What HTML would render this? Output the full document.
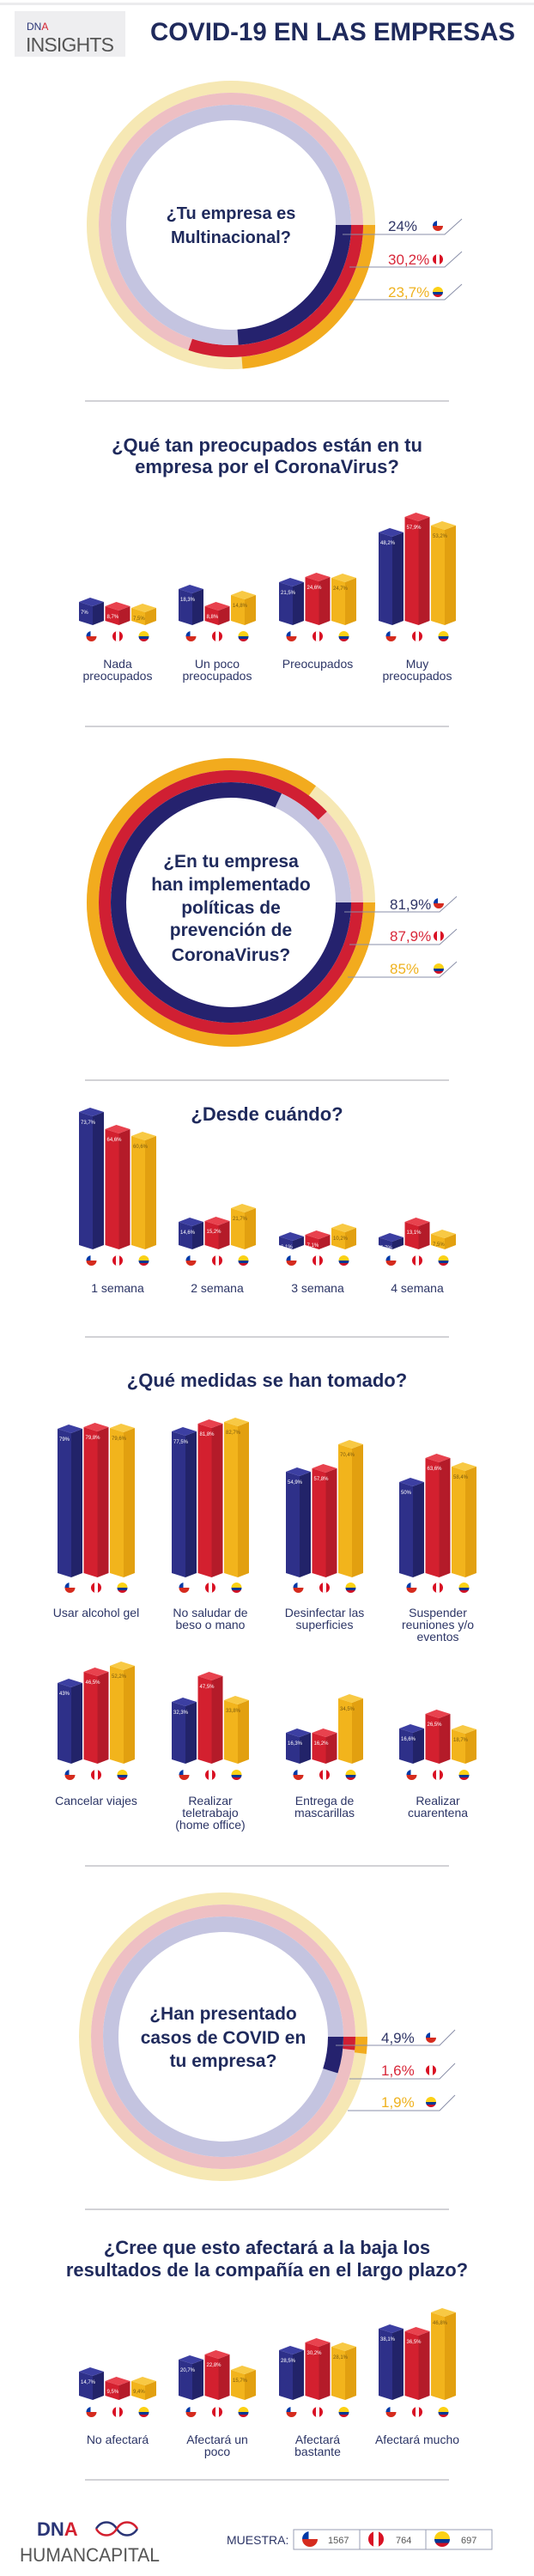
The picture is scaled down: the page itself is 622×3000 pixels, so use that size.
<!DOCTYPE html>
<html><head><meta charset="utf-8">
<style>
html,body{margin:0;padding:0;background:#fff;width:622px;height:3000px;overflow:hidden}
svg{display:block;font-family:"Liberation Sans",sans-serif}
.t{fill:#1f2a5c;font-weight:bold;text-anchor:middle}
.l{fill:#2c3566;font-size:14px;text-anchor:middle}
.sep{stroke:#c4c4c8;stroke-width:1.5}
.ld{stroke:#8a8fa8;stroke-width:1;fill:none}
.p{font-size:17px}
</style></head><body>
<svg id="s" width="622" height="3000" viewBox="0 0 622 3000" xmlns="http://www.w3.org/2000/svg">
<defs>
<clipPath id="cc"><circle cx="6" cy="6" r="6"/></clipPath>
<symbol id="cl" viewBox="0 0 12 12"><g clip-path="url(#cc)"><rect width="12" height="6" fill="#fff"/><rect y="6" width="12" height="6" fill="#d52b1e"/><rect width="5" height="6" fill="#0039a6"/></g></symbol>
<symbol id="pe" viewBox="0 0 12 12"><g clip-path="url(#cc)"><rect width="12" height="12" fill="#d91023"/><rect x="4" width="4" height="12" fill="#fff"/></g></symbol>
<symbol id="co" viewBox="0 0 12 12"><g clip-path="url(#cc)"><rect width="12" height="6" fill="#fcd116"/><rect y="6" width="12" height="3" fill="#003893"/><rect y="9" width="12" height="3" fill="#ce1126"/></g></symbol>
</defs>
<rect x="0" y="3" width="622" height="3" fill="#ececee"/>
<!-- header -->
<rect x="17" y="13" width="129" height="53" fill="#eeeef0"/>
<text x="31" y="35" font-size="12" fill="#2a3576">DN<tspan fill="#d3202f">A</tspan></text>
<text x="30" y="60" font-size="23" fill="#555" textLength="103">INSIGHTS</text>
<text x="175" y="47" font-size="30" font-weight="bold" fill="#1f2a5c" textLength="425" lengthAdjust="spacingAndGlyphs">COVID-19 EN LAS EMPRESAS</text>

<!-- donut 1 -->
<g id="d1"></g>
<text class="t" x="269" y="255" font-size="20">¿Tu empresa es</text>
<text class="t" x="269" y="283" font-size="20">Multinacional?</text>
<text class="p" x="452" y="269" fill="#2f3566">24%</text>
<text class="p" x="452" y="308" fill="#d8283a">30,2%</text>
<text class="p" x="452" y="346" fill="#efb21f">23,7%</text>
<polyline class="ld" points="399,273 518,273 538,255"/>
<polyline class="ld" points="407,311 518,311 538,293"/>
<polyline class="ld" points="407,349 518,349 538,331"/>
<use href="#cl" x="504" y="257" width="12" height="12"/>
<use href="#pe" x="504" y="296" width="12" height="12"/>
<use href="#co" x="504" y="334" width="12" height="12"/>
<line class="sep" x1="99" y1="467" x2="523" y2="467"/>

<!-- preocupados -->
<text class="t" x="311" y="526" font-size="22">¿Qué tan preocupados están en tu</text>
<text class="t" x="311" y="551" font-size="22">empresa por el CoronaVirus?</text>
<text class="l" x="137" y="778">Nada</text><text class="l" x="137" y="792">preocupados</text>
<text class="l" x="253" y="778">Un poco</text><text class="l" x="253" y="792">preocupados</text>
<text class="l" x="370" y="778">Preocupados</text>
<text class="l" x="486" y="778">Muy</text><text class="l" x="486" y="792">preocupados</text>
<line class="sep" x1="99" y1="846" x2="523" y2="846"/>

<!-- donut 2 -->
<g id="d2"></g>
<text class="t" x="269" y="1010" font-size="21">¿En tu empresa</text>
<text class="t" x="269" y="1037" font-size="21">han implementado</text>
<text class="t" x="269" y="1064" font-size="21">políticas de</text>
<text class="t" x="269" y="1090" font-size="21">prevención de</text>
<text class="t" x="269" y="1119" font-size="21">CoronaVirus?</text>
<text class="p" x="454" y="1059" fill="#2f3566">81,9%</text>
<text class="p" x="454" y="1096" fill="#d8283a">87,9%</text>
<text class="p" x="454" y="1134" fill="#efb21f">85%</text>
<polyline class="ld" points="401,1062 512,1062 532,1044"/>
<polyline class="ld" points="407,1100 512,1100 532,1082"/>
<polyline class="ld" points="405,1138 512,1138 532,1120"/>
<use href="#cl" x="505" y="1046" width="12" height="12"/>
<use href="#pe" x="505" y="1084" width="12" height="12"/>
<use href="#co" x="505" y="1122" width="12" height="12"/>
<line class="sep" x1="99" y1="1258" x2="523" y2="1258"/>

<!-- desde -->
<text class="t" x="311" y="1305" font-size="22">¿Desde cuándo?</text>
<text class="l" x="137" y="1505">1 semana</text>
<text class="l" x="253" y="1505">2 semana</text>
<text class="l" x="370" y="1505">3 semana</text>
<text class="l" x="486" y="1505">4 semana</text>
<line class="sep" x1="99" y1="1557" x2="523" y2="1557"/>

<!-- medidas -->
<text class="t" x="311" y="1615" font-size="22">¿Qué medidas se han tomado?</text>
<text class="l" x="112" y="1883">Usar alcohol gel</text>
<text class="l" x="245" y="1883">No saludar de</text><text class="l" x="245" y="1897">beso o mano</text>
<text class="l" x="378" y="1883">Desinfectar las</text><text class="l" x="378" y="1897">superficies</text>
<text class="l" x="510" y="1883">Suspender</text><text class="l" x="510" y="1897">reuniones y/o</text><text class="l" x="510" y="1911">eventos</text>
<text class="l" x="112" y="2102">Cancelar viajes</text>
<text class="l" x="245" y="2102">Realizar</text><text class="l" x="245" y="2116">teletrabajo</text><text class="l" x="245" y="2130">(home office)</text>
<text class="l" x="378" y="2102">Entrega de</text><text class="l" x="378" y="2116">mascarillas</text>
<text class="l" x="510" y="2102">Realizar</text><text class="l" x="510" y="2116">cuarentena</text>
<line class="sep" x1="99" y1="2173" x2="523" y2="2173"/>

<!-- donut 3 -->
<g id="d3"></g>
<text class="t" x="260" y="2352" font-size="21">¿Han presentado</text>
<text class="t" x="260" y="2380" font-size="21">casos de COVID en</text>
<text class="t" x="260" y="2407" font-size="21">tu empresa?</text>
<text class="p" x="444" y="2379" fill="#2f3566">4,9%</text>
<text class="p" x="444" y="2417" fill="#d8283a">1,6%</text>
<text class="p" x="444" y="2454" fill="#efb21f">1,9%</text>
<polyline class="ld" points="391,2382 512,2382 530,2364"/>
<polyline class="ld" points="407,2421 512,2421 530,2403"/>
<polyline class="ld" points="405,2458 512,2458 530,2440"/>
<use href="#cl" x="496" y="2367" width="12" height="12"/>
<use href="#pe" x="496" y="2405" width="12" height="12"/>
<use href="#co" x="496" y="2442" width="12" height="12"/>
<line class="sep" x1="99" y1="2573" x2="523" y2="2573"/>

<!-- afectara -->
<text class="t" x="311" y="2625" font-size="22">¿Cree que esto afectará a la baja los</text>
<text class="t" x="311" y="2651" font-size="22">resultados de la compañía en el largo plazo?</text>
<text class="l" x="137" y="2846">No afectará</text>
<text class="l" x="253" y="2846">Afectará un</text><text class="l" x="253" y="2860">poco</text>
<text class="l" x="370" y="2846">Afectará</text><text class="l" x="370" y="2860">bastante</text>
<text class="l" x="486" y="2846">Afectará mucho</text>
<line class="sep" x1="99" y1="2888" x2="523" y2="2888"/>

<!-- footer -->
<text x="43" y="2953" font-size="22" font-weight="bold" fill="#2a3576">DN<tspan fill="#d3202f">A</tspan></text>
<path d="M112,2945 C118,2935 130,2935 136,2945 C142,2955 154,2955 160,2945" stroke="#2a3576" stroke-width="2.5" fill="none"/>
<path d="M112,2945 C118,2955 130,2955 136,2945 C142,2935 154,2935 160,2945" stroke="#d3202f" stroke-width="2.5" fill="none"/>
<text x="23" y="2983" font-size="22" fill="#555" textLength="163" lengthAdjust="spacingAndGlyphs">HUMANCAPITAL</text>
<text x="264" y="2963" font-size="14" fill="#2c3566">MUESTRA:</text>
<rect x="342" y="2946" width="231" height="23" fill="#fff" stroke="#9a9fb5" stroke-width="1"/>
<line x1="419" y1="2946" x2="419" y2="2969" stroke="#9a9fb5"/>
<line x1="496" y1="2946" x2="496" y2="2969" stroke="#9a9fb5"/>
<use href="#cl" x="352" y="2948" width="18" height="18"/>
<use href="#pe" x="429" y="2948" width="18" height="18"/>
<use href="#co" x="506" y="2948" width="18" height="18"/>
<text x="382" y="2962" font-size="11" fill="#555">1567</text>
<text x="461" y="2962" font-size="11" fill="#555">764</text>
<text x="537" y="2962" font-size="11" fill="#555">697</text>
<g id="bars"></g>
</svg>
<script>
var NS="http://www.w3.org/2000/svg";
function el(p,n,a){var e=document.createElementNS(NS,n);for(var k in a)e.setAttribute(k,a[k]);p.appendChild(e);return e;}
function donut(id,cx,cy,vals){
 var g=document.getElementById(id);
 var rings=[[161,14,'#f6e8b4','#f2ab1e'],[147,14,'#eebfc3','#d01f33'],[131,18,'#c4c4e0','#25226e']];
 var v=[vals[2],vals[1],vals[0]];
 rings.forEach(function(r,i){
  var C=2*Math.PI*r[0];
  el(g,'circle',{cx:cx,cy:cy,r:r[0],fill:'none',stroke:r[2],'stroke-width':r[1]});
  el(g,'circle',{cx:cx,cy:cy,r:r[0],fill:'none',stroke:r[3],'stroke-width':r[1],'stroke-dasharray':(C*v[i]/100)+' '+C});
 });
}
donut('d1',269,262,[24,30.2,23.7]);
donut('d2',269,1051,[81.9,87.9,85]);
donut('d3',260,2372,[4.9,1.6,1.9]);
var COL=[['#3c3fa2','#2e3089','#222369','#fff'],['#e8424e','#d3202f','#b41b29','#fff'],['#f8c944','#f2b41c','#e2a010','#7a5a10']];
var G=document.getElementById('bars');
var FL=['#cl','#pe','#co'];
function bar(x,b,h,c,val){
 var t=b-h,w=29,m=16;
 el(G,'polygon',{points:[x,t+5,x+m,t+10,x+m,b,x,b-5].join(','),fill:c[1]});
 el(G,'polygon',{points:[x+m,t+10,x+w,t+5,x+w,b-5,x+m,b].join(','),fill:c[2]});
 el(G,'polygon',{points:[x,t+5,x+13,t,x+w,t+5,x+m,t+10].join(','),fill:c[0]});
 var tx=el(G,'text',{x:x+2,y:t+19,'font-size':6,fill:c[3]});tx.textContent=val;
}
function sec(gx,b,fy,H,V){
 gx.forEach(function(x0,g){for(var i=0;i<3;i++){var x=x0+i*30.5;
  bar(x,b,H[g][i],COL[i],V[g][i]);
  el(G,'use',{href:FL[i],x:x+8.5,y:fy-6,width:12,height:12});}});
}
var g4=[92,208,325,441],g8=[67,200,333,465];
sec(g4,728,741,[[32,27,25],[47,27,40],[55,61,60],[113,131,121]],
 [['7%','8,7%','7,5%'],['18,3%','8,8%','14,8%'],['21,5%','24,6%','24,7%'],['48,2%','57,9%','53,2%']]);
sec(g4,1455,1468,[[165,145,137],[37,38,53],[20,22,30],[19,37,23]],
 [['73,7%','64,6%','60,6%'],['14,6%','15,2%','21,7%'],['6,1%','7,1%','10,2%'],['5,7%','13,1%','7,5%']]);
sec(g8,1837,1849,[[178,180,179],[175,184,186],[128,132,160],[116,144,134]],
 [['79%','79,8%','79,6%'],['77,5%','81,8%','82,7%'],['54,9%','57,8%','70,4%'],['50%','63,6%','58,4%']]);
sec(g8,2054,2067,[[99,112,119],[77,107,79],[41,41,81],[46,63,45]],
 [['43%','46,5%','52,2%'],['32,3%','47,5%','33,8%'],['16,3%','16,2%','34,5%'],['16,6%','26,5%','18,7%']]);
sec(g4,2795,2809,[[38,27,27],[52,58,40],[63,72,67],[88,85,107]],
 [['14,7%','9,5%','9,4%'],['20,7%','22,8%','15,7%'],['28,5%','30,2%','28,1%'],['38,1%','36,5%','46,8%']]);
</script>
</body></html>
